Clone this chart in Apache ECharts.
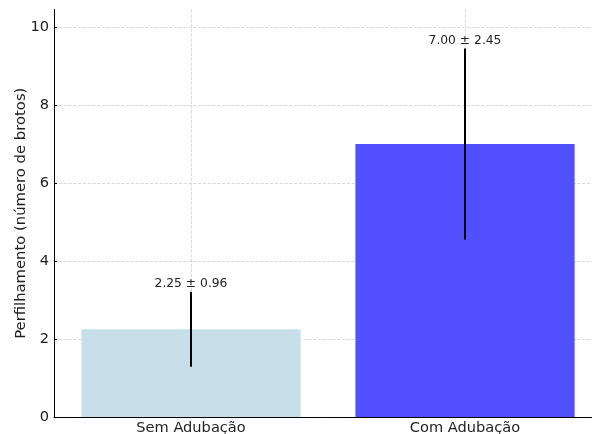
<!DOCTYPE html>
<html>
<head>
<meta charset="utf-8">
<script src="https://cdn.jsdelivr.net/npm/echarts@6/dist/echarts.min.js"></script>
<style>
  html, body { margin: 0; padding: 0; background: #fff; }
  #chart { width: 592px; height: 434px; }
</style>
</head>
<body>
<div id="chart"></div>
<script>
const categories = ['Sem Adubação', 'Com Adubação'];
const means = [2.25, 7.00];
const sds = [0.96, 2.45];
const barColors = ['#c6dfe9', '#5050ff'];
const yTicks = [0, 2, 4, 6, 8, 10];

const chart = echarts.init(document.getElementById('chart'));

const option = {
  animation: false,
  textStyle: { fontFamily: 'DejaVu Sans' },
  grid: { left: 54, right: -10, top: 9.5, bottom: 17, outerBoundsMode: 'none', containLabel: false },
  xAxis: {
    type: 'category',
    data: categories,
    axisLine: { lineStyle: { color: '#000', width: 1 } },
    axisTick: { alignWithLabel: true, inside: true, length: 3, lineStyle: { color: '#000' } },
    axisLabel: { fontSize: 14.6, color: '#1e1e1e', margin: 4 },
    splitLine: { show: true, alignWithLabel: true, lineStyle: { color: '#cfcfcf', type: 'dashed', width: 0.8 } }
  },
  yAxis: {
    type: 'value',
    min: 0,
    max: 10.45,
    interval: 2,
    name: 'Perfilhamento (número de brotos)',
    nameLocation: 'middle',
    nameGap: 25,
    nameMoveOverlap: false,
    nameTextStyle: { fontSize: 14.8, color: '#1e1e1e' },
    axisLine: { show: true, lineStyle: { color: '#000', width: 1 } },
    axisTick: { show: true, inside: true, length: 3, customValues: yTicks, lineStyle: { color: '#000' } },
    axisLabel: { fontSize: 14.6, color: '#1e1e1e', margin: 5, customValues: yTicks },
    splitLine: {
      show: true,
      lineStyle: { color: ['#cfcfcf', '#cfcfcf', '#cfcfcf', '#cfcfcf', '#cfcfcf', '#cfcfcf', 'rgba(0,0,0,0)'], type: 'dashed', width: 0.8 }
    }
  },
  series: [
    {
      type: 'bar',
      barWidth: '80%',
      data: means.map((v, i) => ({ value: v, itemStyle: { color: barColors[i] } })),
      z: 2
    },
    {
      type: 'custom',
      z: 5,
      data: means.map((v, i) => [i, v, sds[i]]),
      renderItem: function (params, api) {
        const i = api.value(0);
        const m = api.value(1);
        const s = api.value(2);
        const lo = api.coord([i, m - s]);
        const hi = api.coord([i, m + s]);
        return {
          type: 'group',
          children: [
            {
              type: 'line',
              shape: { x1: hi[0], y1: lo[1], x2: hi[0], y2: hi[1] },
              style: { stroke: '#000', lineWidth: 2 }
            },
            {
              type: 'text',
              style: {
                text: m.toFixed(2) + ' ± ' + s.toFixed(2),
                x: hi[0],
                y: hi[1] - 2,
                align: 'center',
                verticalAlign: 'bottom',
                fontSize: 12.3,
                fontFamily: 'DejaVu Sans',
                fill: '#222'
              }
            }
          ]
        };
      }
    }
  ]
};

chart.setOption(option);
</script>
</body>
</html>
